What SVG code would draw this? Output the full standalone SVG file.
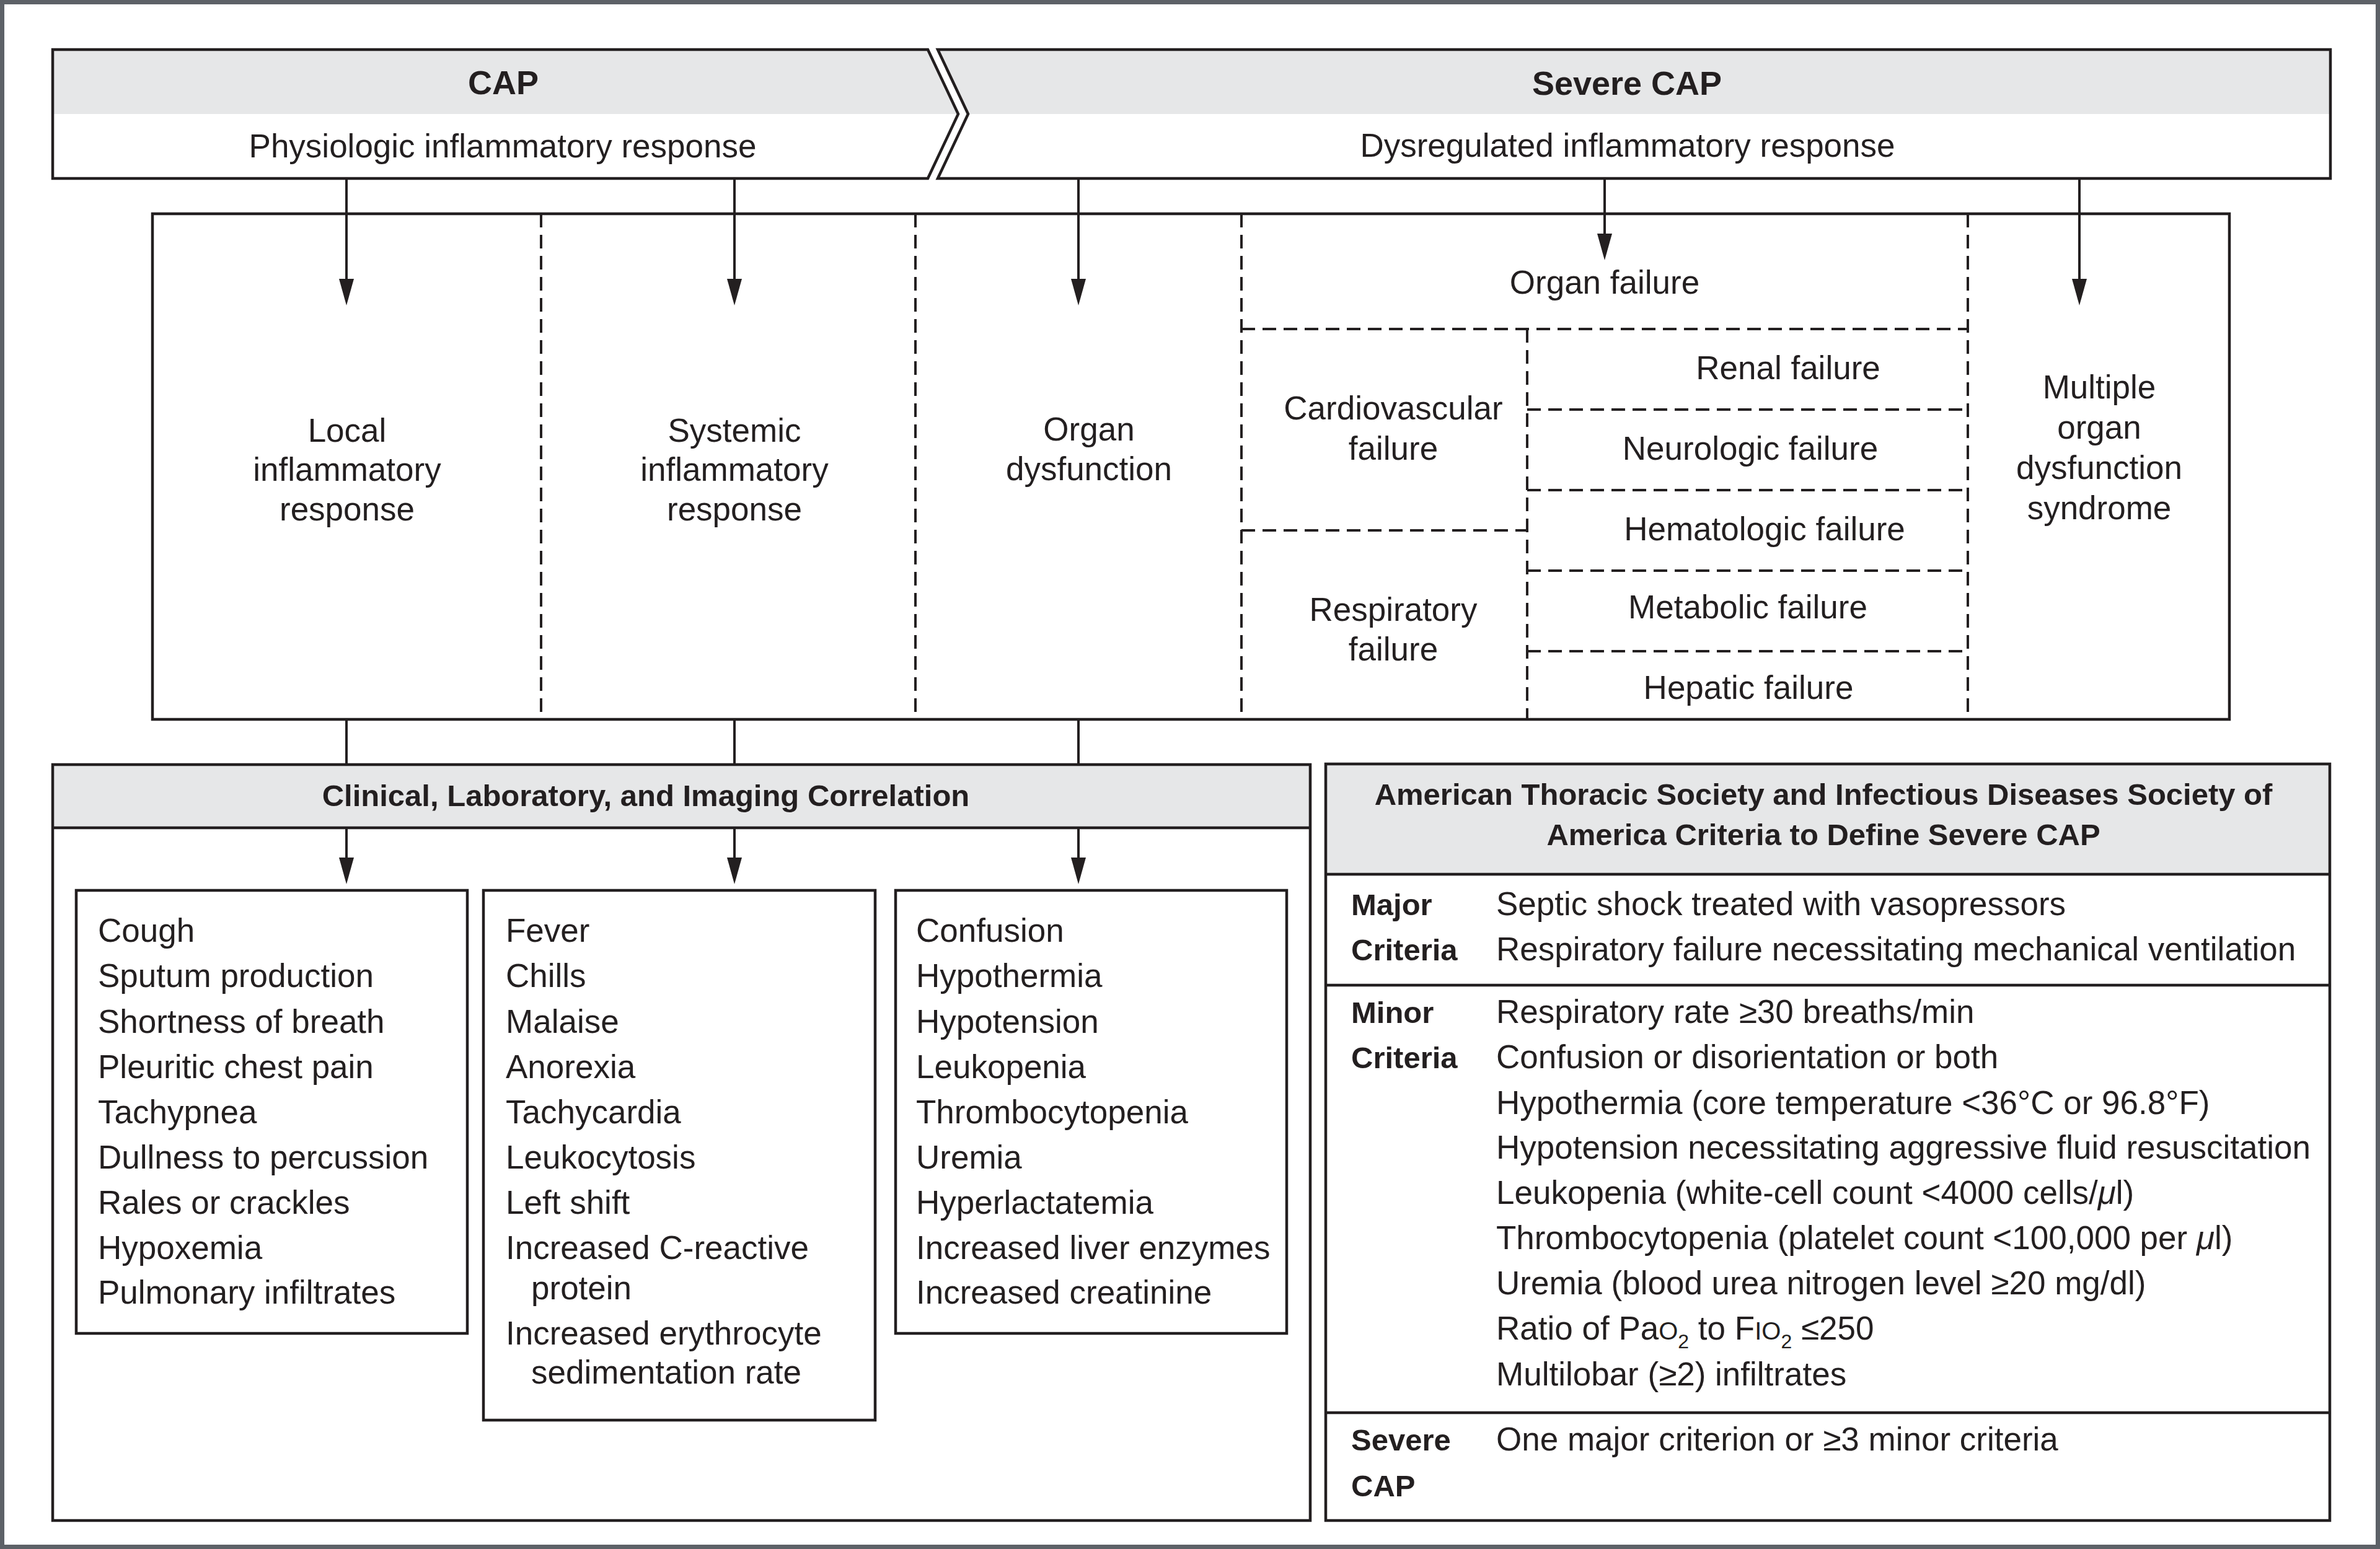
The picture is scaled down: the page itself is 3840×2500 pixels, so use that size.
<svg xmlns="http://www.w3.org/2000/svg" width="3840" height="2500" viewBox="0 0 3840 2500">
<style>
.ln{fill:none;stroke:#231f20;stroke-width:4.5}
.dash{fill:none;stroke:#231f20;stroke-width:4;stroke-dasharray:22 12}
.conn{fill:none;stroke:#231f20;stroke-width:4}
.band{fill:#e6e7e8;stroke:none}
.t{font-family:"Liberation Sans",Arial,sans-serif;font-size:53px;fill:#231f20}
.c{text-anchor:middle}
.b{font-weight:bold;font-size:49px}
.h{font-weight:bold;font-size:54px}
</style>
<defs>
<marker id="arr" viewBox="0 0 43 24" refX="13" refY="12" markerWidth="43" markerHeight="24" markerUnits="userSpaceOnUse" orient="auto">
<path d="M0,0 L43,12 L0,24 Z" fill="#231f20"/>
</marker>
</defs>
<rect x="0" y="0" width="3840" height="2500" fill="#ffffff"/>
<rect x="3.5" y="3.5" width="3833" height="2493" fill="none" stroke="#5d6167" stroke-width="7"/>

<g id="cap-header">
<polygon class="band" points="85,80 1497,80 1546,184 85,184"/>
<polygon class="ln" points="85,80 1497,80 1546,184 1497,288 85,288"/>
<text class="t c h" x="812" y="152">CAP</text>
<text class="t c" x="811" y="254">Physiologic inflammatory response</text>
</g>

<g id="severe-cap-header">
<polygon class="band" points="1513,80 3760,80 3760,184 1562,184"/>
<polygon class="ln" points="1513,80 3760,80 3760,288 1513,288 1562,184"/>
<text class="t c h" x="2625" y="153">Severe CAP</text>
<text class="t c" x="2626" y="253">Dysregulated inflammatory response</text>
</g>

<g id="response-panel">
<rect class="ln" x="246" y="345" width="3351" height="816"/>
<line class="dash" x1="873" y1="345" x2="873" y2="1161"/>
<line class="dash" x1="1477" y1="345" x2="1477" y2="1161"/>
<line class="dash" x1="2003" y1="345" x2="2003" y2="1161"/>
<line class="dash" x1="3175" y1="345" x2="3175" y2="1161"/>
<line class="dash" x1="2003" y1="531" x2="3175" y2="531"/>
<line class="dash" x1="2464" y1="531" x2="2464" y2="1161"/>
<line class="dash" x1="2003" y1="856" x2="2464" y2="856"/>
<line class="dash" x1="2464" y1="661" x2="3175" y2="661"/>
<line class="dash" x1="2464" y1="791" x2="3175" y2="791"/>
<line class="dash" x1="2464" y1="921" x2="3175" y2="921"/>
<line class="dash" x1="2464" y1="1051" x2="3175" y2="1051"/>
</g>

<g id="local-response">
<text class="t c" x="560" y="713">Local</text>
<text class="t c" x="560" y="776">inflammatory</text>
<text class="t c" x="560" y="840">response</text>
</g>
<g id="systemic-response">
<text class="t c" x="1185" y="713">Systemic</text>
<text class="t c" x="1185" y="776">inflammatory</text>
<text class="t c" x="1185" y="840">response</text>
</g>
<g id="organ-dysfunction">
<text class="t c" x="1757" y="711">Organ</text>
<text class="t c" x="1757" y="775">dysfunction</text>
</g>
<g id="organ-failure">
<text class="t c" x="2589" y="474">Organ failure</text>
</g>
<g id="cardiovascular-failure">
<text class="t c" x="2248" y="677">Cardiovascular</text>
<text class="t c" x="2248" y="742">failure</text>
</g>
<g id="respiratory-failure">
<text class="t c" x="2248" y="1002">Respiratory</text>
<text class="t c" x="2248" y="1066">failure</text>
</g>
<g id="renal-failure"><text class="t c" x="2885" y="612">Renal failure</text></g>
<g id="neurologic-failure"><text class="t c" x="2824" y="742">Neurologic failure</text></g>
<g id="hematologic-failure"><text class="t c" x="2847" y="872">Hematologic failure</text></g>
<g id="metabolic-failure"><text class="t c" x="2820" y="998">Metabolic failure</text></g>
<g id="hepatic-failure"><text class="t c" x="2821" y="1128">Hepatic failure</text></g>
<g id="mods">
<text class="t c" x="3387" y="643">Multiple</text>
<text class="t c" x="3387" y="708">organ</text>
<text class="t c" x="3387" y="773">dysfunction</text>
<text class="t c" x="3387" y="838">syndrome</text>
</g>

<g id="correlation-panel">
<rect class="band" x="85" y="1234" width="2029" height="102"/>
<rect class="ln" x="85" y="1234" width="2029" height="1220"/>
<line class="ln" x1="85" y1="1336" x2="2114" y2="1336"/>
<text class="t c b" x="1042" y="1301">Clinical, Laboratory, and Imaging Correlation</text>
</g>

<g id="local-signs">
<rect class="ln" x="123" y="1437" width="631" height="715"/>
<text class="t" x="158" y="1520">Cough</text>
<text class="t" x="158" y="1593">Sputum production</text>
<text class="t" x="158" y="1667">Shortness of breath</text>
<text class="t" x="158" y="1740">Pleuritic chest pain</text>
<text class="t" x="158" y="1813">Tachypnea</text>
<text class="t" x="158" y="1886">Dullness to percussion</text>
<text class="t" x="158" y="1959">Rales or crackles</text>
<text class="t" x="158" y="2032">Hypoxemia</text>
<text class="t" x="158" y="2104">Pulmonary infiltrates</text>
</g>

<g id="systemic-signs">
<rect class="ln" x="780" y="1437" width="632" height="855"/>
<text class="t" x="816" y="1520">Fever</text>
<text class="t" x="816" y="1593">Chills</text>
<text class="t" x="816" y="1667">Malaise</text>
<text class="t" x="816" y="1740">Anorexia</text>
<text class="t" x="816" y="1813">Tachycardia</text>
<text class="t" x="816" y="1886">Leukocytosis</text>
<text class="t" x="816" y="1959">Left shift</text>
<text class="t" x="816" y="2032">Increased C-reactive</text>
<text class="t" x="857" y="2097">protein</text>
<text class="t" x="816" y="2170">Increased erythrocyte</text>
<text class="t" x="857" y="2233">sedimentation rate</text>
</g>

<g id="dysfunction-signs">
<rect class="ln" x="1445" y="1437" width="631" height="715"/>
<text class="t" x="1478" y="1520">Confusion</text>
<text class="t" x="1478" y="1593">Hypothermia</text>
<text class="t" x="1478" y="1667">Hypotension</text>
<text class="t" x="1478" y="1740">Leukopenia</text>
<text class="t" x="1478" y="1813">Thrombocytopenia</text>
<text class="t" x="1478" y="1886">Uremia</text>
<text class="t" x="1478" y="1959">Hyperlactatemia</text>
<text class="t" x="1478" y="2032">Increased liver enzymes</text>
<text class="t" x="1478" y="2104">Increased creatinine</text>
</g>

<g id="ats-idsa-criteria">
<rect class="band" x="2139" y="1233" width="1620" height="178"/>
<rect class="ln" x="2139" y="1233" width="1620" height="1221"/>
<line class="ln" x1="2139" y1="1411" x2="3759" y2="1411"/>
<line class="ln" x1="2139" y1="1590" x2="3759" y2="1590"/>
<line class="ln" x1="2139" y1="2280" x2="3759" y2="2280"/>
<text class="t c b" x="2942" y="1299">American Thoracic Society and Infectious Diseases Society of</text>
<text class="t c b" x="2942" y="1364">America Criteria to Define Severe CAP</text>
<text class="t b" x="2180" y="1477">Major</text>
<text class="t b" x="2180" y="1550">Criteria</text>
<text class="t" x="2414" y="1477">Septic shock treated with vasopressors</text>
<text class="t" x="2414" y="1550">Respiratory failure necessitating mechanical ventilation</text>
<text class="t b" x="2180" y="1651">Minor</text>
<text class="t b" x="2180" y="1724">Criteria</text>
<text class="t" x="2414" y="1651">Respiratory rate ≥30 breaths/min</text>
<text class="t" x="2414" y="1724">Confusion or disorientation or both</text>
<text class="t" x="2414" y="1798">Hypothermia (core temperature &lt;36°C or 96.8°F)</text>
<text class="t" x="2414" y="1870">Hypotension necessitating aggressive fluid resuscitation</text>
<text class="t" x="2414" y="1943">Leukopenia (white-cell count &lt;4000 cells/<tspan font-style="italic">μ</tspan>l)</text>
<text class="t" x="2414" y="2016">Thrombocytopenia (platelet count &lt;100,000 per <tspan font-style="italic">μ</tspan>l)</text>
<text class="t" x="2414" y="2089">Uremia (blood urea nitrogen level ≥20 mg/dl)</text>
<text class="t" x="2414" y="2162">Ratio of Pa<tspan font-size="40">O</tspan><tspan font-size="32" dy="14">2</tspan><tspan dy="-14"> to F</tspan><tspan font-size="40">IO</tspan><tspan font-size="32" dy="14">2</tspan><tspan dy="-14"> ≤250</tspan></text>
<text class="t" x="2414" y="2236">Multilobar (≥2) infiltrates</text>
<text class="t b" x="2180" y="2341">Severe</text>
<text class="t b" x="2180" y="2415">CAP</text>
<text class="t" x="2414" y="2341">One major criterion or ≥3 minor criteria</text>
</g>

<g id="connectors">
<line class="conn" x1="559" y1="288" x2="559" y2="463" marker-end="url(#arr)"/>
<line class="conn" x1="1185" y1="288" x2="1185" y2="463" marker-end="url(#arr)"/>
<line class="conn" x1="1740" y1="288" x2="1740" y2="463" marker-end="url(#arr)"/>
<line class="conn" x1="2589" y1="288" x2="2589" y2="390" marker-end="url(#arr)"/>
<line class="conn" x1="3355" y1="288" x2="3355" y2="463" marker-end="url(#arr)"/>
<line class="conn" x1="559" y1="1161" x2="559" y2="1234"/>
<line class="conn" x1="1185" y1="1161" x2="1185" y2="1234"/>
<line class="conn" x1="1740" y1="1161" x2="1740" y2="1234"/>
<line class="conn" x1="559" y1="1336" x2="559" y2="1397" marker-end="url(#arr)"/>
<line class="conn" x1="1185" y1="1336" x2="1185" y2="1397" marker-end="url(#arr)"/>
<line class="conn" x1="1740" y1="1336" x2="1740" y2="1397" marker-end="url(#arr)"/>
</g>
</svg>
